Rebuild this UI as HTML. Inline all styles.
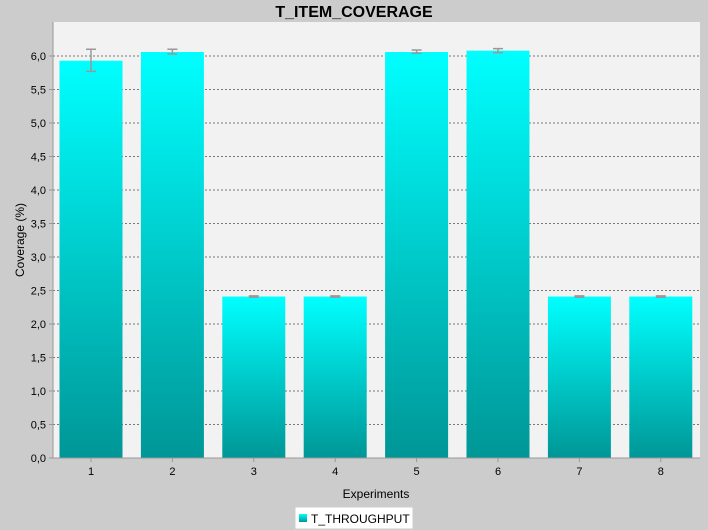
<!DOCTYPE html>
<html><head><meta charset="utf-8"><style>
body{margin:0;background:#cccccc;font-family:"Liberation Sans",sans-serif}
</style></head><body>
<svg width="708" height="530" xmlns="http://www.w3.org/2000/svg" style="display:block">
<defs><linearGradient id="g" x1="0" y1="0" x2="0" y2="1"><stop offset="0" stop-color="#00ffff"/><stop offset="1" stop-color="#009696"/></linearGradient>
<linearGradient id="lg" x1="0" y1="0" x2="0" y2="1"><stop offset="0" stop-color="#00ffff"/><stop offset="1" stop-color="#009696"/></linearGradient></defs>
<rect width="708" height="530" fill="#cccccc"/>
<text x="354" y="17" text-anchor="middle" font-size="16" font-weight="bold">T_ITEM_COVERAGE</text>
<rect x="53" y="22" width="647" height="436" fill="#f2f2f2"/>
<g id="grid"></g><g id="bars"></g><g id="yt"></g><g id="xt"></g>
<line x1="53" y1="22" x2="53" y2="458" stroke="#999"/>
<line x1="53" y1="458" x2="700" y2="458" stroke="#999"/>
<text x="24" y="240" transform="rotate(-90 24 240)" text-anchor="middle" font-size="12">Coverage (%)</text>
<text x="376" y="498" text-anchor="middle" font-size="12">Experiments</text>
<g><rect x="295" y="507" width="118" height="22" fill="#fff" stroke="#ccc"/>
<rect x="299" y="514" width="8" height="8" fill="url(#lg)"/>
<text x="311" y="523" font-size="12">T_THROUGHPUT</text></g>
</svg>
<script>
const categories=["1","2","3","4","5","6","7","8"];
const values=[5.93,6.06,2.41,2.41,6.06,6.08,2.41,2.41];
const errLow=[5.77,6.03,2.40,2.40,6.04,6.05,2.40,2.40];
const errHigh=[6.10,6.10,2.42,2.42,6.09,6.11,2.42,2.42];
const yTicks=[0,0.5,1,1.5,2,2.5,3,3.5,4,4.5,5,5.5,6];
const NS="http://www.w3.org/2000/svg";
const y=v=>458-v*67;
const bandStart=50.3,step=81.4,bw=63;
const cx=i=>bandStart+step*(i+0.5);
function mk(t,a,p){const e=document.createElementNS(NS,t);for(const k in a)e.setAttribute(k,a[k]);document.getElementById(p).appendChild(e);return e;}
yTicks.forEach(v=>{
 if(v>0){const l=mk('line',{x1:53,x2:700,y1:y(v),y2:y(v),stroke:'#777','stroke-dasharray':'2,2'},'grid');
 
 }
 mk('line',{x1:49,x2:53,y1:y(v),y2:y(v),stroke:'#999'},'yt');
 const t=mk('text',{x:46,y:y(v)+4,'text-anchor':'end','font-size':11},'yt');
 t.textContent=v.toFixed(1).replace('.',',');
 
 
});
categories.forEach((c,i)=>{
 const r=mk('rect',{x:cx(i)-bw/2,y:y(values[i]),width:bw,height:458-y(values[i]),fill:'url(#g)'},'bars');
 
 
 const e=mk('path',{d:`M${cx(i)},${y(errLow[i])}V${y(errHigh[i])}M${cx(i)-5},${y(errLow[i])}h10M${cx(i)-5},${y(errHigh[i])}h10`,stroke:'#999','stroke-width':1.5,fill:'none'},'bars');
 
 
 mk('line',{x1:cx(i),x2:cx(i),y1:458,y2:462,stroke:'#999'},'xt');
 const t=mk('text',{x:cx(i),y:475,'text-anchor':'middle','font-size':11},'xt');
 t.textContent=c;
 
 
});
</script>
</body></html>
